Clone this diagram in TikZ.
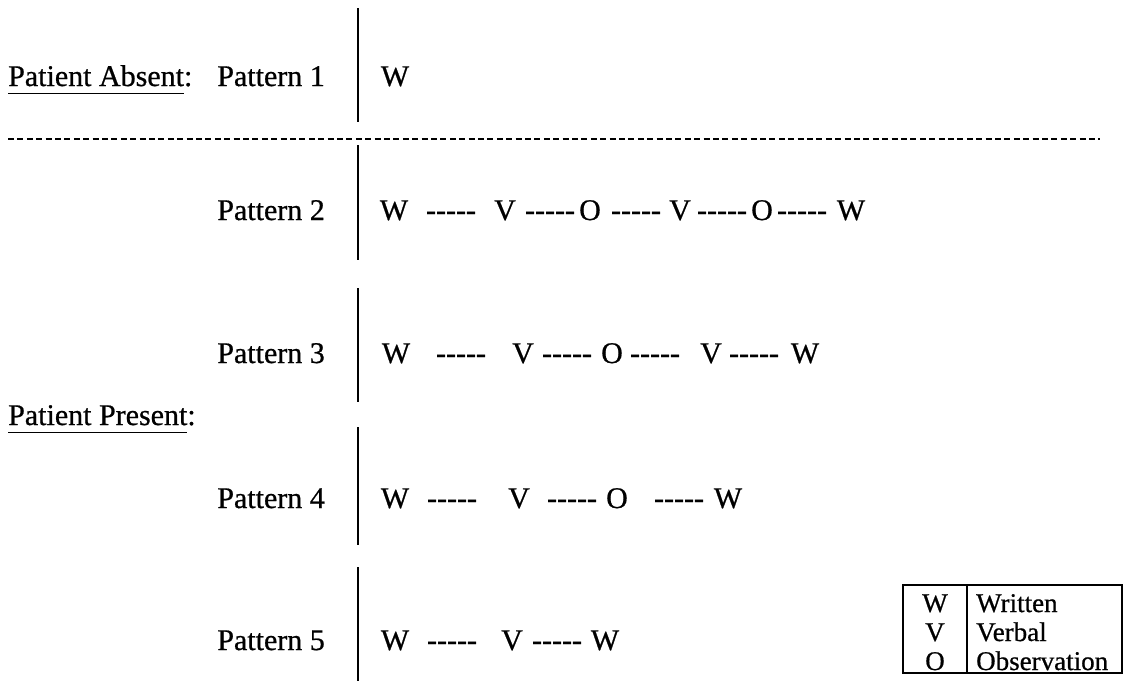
\documentclass[tikz,border=0pt]{standalone}
\usepackage{fontspec}
\setmainfont{Liberation Serif}[FakeBold=0.7]
\newcommand\hy{\mbox{-}}
\newcommand\fivedash{\hy\hy\hy\hy\hy}
\newcommand\myul[1]{\setbox0\hbox{#1}\rlap{\rule[-8pt]{\wd0}{1.5pt}}\box0}
\begin{document}
\begin{tikzpicture}[x=1pt,y=-1pt,
  txt/.style={inner sep=0pt, font=\fontsize{30}{36}\selectfont},
  lbl/.style={txt, anchor=base east},
  head/.style={txt, anchor=base west},
  ltr/.style={txt, anchor=base},
  dsh/.style={txt, anchor=base},
  bar/.style={line width=1.6pt},
  sep/.style={line width=1.8pt, dash pattern=on 6pt off 3.4pt},
  lgdbox/.style={line width=1.1pt},
  lgdl/.style={inner sep=0pt, font=\fontsize{27}{30}\selectfont, anchor=base},
  lgdw/.style={inner sep=0pt, font=\fontsize{27}{30}\selectfont, anchor=base west}]
\useasboundingbox (0,0) rectangle (1126,681);

% headings
\node[head] (absent) at (8,86) {\myul{Patient Absent}:};
\node[head] (present) at (8,425) {\myul{Patient Present}:};

% pattern labels
\node[lbl] (p1) at (325,86) {Pattern 1};
\node[lbl] (p2) at (325,220) {Pattern 2};
\node[lbl] (p3) at (325,363) {Pattern 3};
\node[lbl] (p4) at (325,508) {Pattern 4};
\node[lbl] (p5) at (325,650) {Pattern 5};

% vertical bars
\draw[bar] (358,8) -- (358,122);
\draw[bar] (358,145) -- (358,260);
\draw[bar] (358,288) -- (358,402);
\draw[bar] (358,427) -- (358,545);
\draw[bar] (358,567) -- (358,681);

% separator
\draw[sep] (8,139) -- (1100,139);

% row 1
\node[ltr] (r1a) at (395,86) {W};

% row 2
\node[ltr] (r2a) at (394,220) {W};
\node[dsh] (r2d1) at (451,220) {\fivedash};
\node[ltr] (r2b) at (505,220) {V};
\node[dsh] (r2d2) at (550,220) {\fivedash};
\node[ltr] (r2c) at (590,220) {O};
\node[dsh] (r2d3) at (636,220) {\fivedash};
\node[ltr] (r2d) at (680,220) {V};
\node[dsh] (r2d4) at (722,220) {\fivedash};
\node[ltr] (r2e) at (762,220) {O};
\node[dsh] (r2d5) at (802,220) {\fivedash};
\node[ltr] (r2f) at (851,220) {W};

% row 3
\node[ltr] (r3a) at (396,363) {W};
\node[dsh] (r3d1) at (461,363) {\fivedash};
\node[ltr] (r3b) at (523,363) {V};
\node[dsh] (r3d2) at (567,363) {\fivedash};
\node[ltr] (r3c) at (612,363) {O};
\node[dsh] (r3d3) at (655,363) {\fivedash};
\node[ltr] (r3d) at (711,363) {V};
\node[dsh] (r3d4) at (754,363) {\fivedash};
\node[ltr] (r3e) at (805,363) {W};

% row 4
\node[ltr] (r4a) at (395,508) {W};
\node[dsh] (r4d1) at (452,508) {\fivedash};
\node[ltr] (r4b) at (519,508) {V};
\node[dsh] (r4d2) at (572,508) {\fivedash};
\node[ltr] (r4c) at (617,508) {O};
\node[dsh] (r4d3) at (679,508) {\fivedash};
\node[ltr] (r4d) at (728,508) {W};

% row 5
\node[ltr] (r5a) at (395,650) {W};
\node[dsh] (r5d1) at (452,650) {\fivedash};
\node[ltr] (r5b) at (512,650) {V};
\node[dsh] (r5d2) at (557,650) {\fivedash};
\node[ltr] (r5c) at (605,650) {W};

% legend
\draw[lgdbox] (903,585) rectangle (1122,673);
\draw[lgdbox] (967,585) -- (967,673);
\node[lgdl] (kw) at (935,612) {W};
\node[lgdl] (kv) at (935,641) {V};
\node[lgdl] (ko) at (935,670) {O};
\node[lgdw] (tw) at (976,612) {Written};
\node[lgdw] (tv) at (976,641) {Verbal};
\node[lgdw] (to) at (976,670) {Observation};
\end{tikzpicture}
\end{document}
